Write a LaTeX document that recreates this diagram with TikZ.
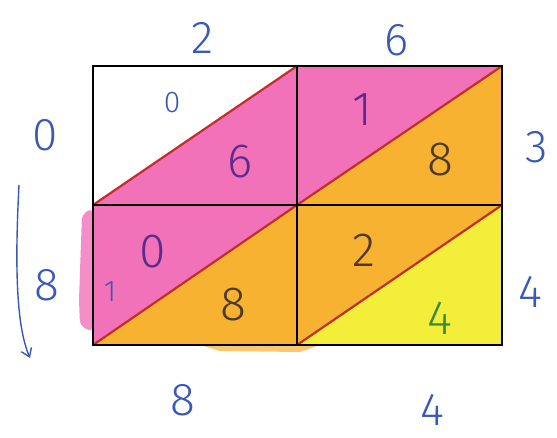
\documentclass[tikz,border=0pt]{standalone}
\usepackage{fontspec}
\setmainfont{Fira Sans}[UprightFont=* Light]
\usetikzlibrary{arrows.meta}
\definecolor{pinkfill}{HTML}{F272BA}
\definecolor{orangefill}{HTML}{F7B232}
\definecolor{yellowfill}{HTML}{F3EE3A}
\definecolor{inkblue}{HTML}{3A58B8}
\definecolor{inkpurple}{HTML}{5B2C8C}
\definecolor{inkbrown}{HTML}{4C3B2C}
\definecolor{inkgreen}{HTML}{3C8A3A}
\definecolor{diagred}{HTML}{C22E28}
\tikzset{
  outer/.style={text=inkblue, font=\fontsize{46}{46}\selectfont, inner sep=0pt},
  cellnum/.style={font=\fontsize{48}{48}\selectfont, inner sep=0pt},
  gridline/.style={draw=black, line width=2.4pt},
  diagline/.style={draw=diagred, line width=2.2pt},
}
\begin{document}
\begin{tikzpicture}[x=1pt,y=-1pt]
\useasboundingbox (0,0) rectangle (557,437);
% grid corners
\coordinate (a00) at (93,66);  \coordinate (a10) at (297,66);  \coordinate (a20) at (502,66);
\coordinate (a01) at (93,205); \coordinate (a11) at (297,205); \coordinate (a21) at (502,205);
\coordinate (a02) at (93,345); \coordinate (a12) at (297,345); \coordinate (a22) at (502,345);
% smudges
\fill[pinkfill, opacity=0.8, rounded corners=6pt] (82,214) -- (93,208) -- (93,332) -- (80,326) -- (79,300) -- cycle;
\fill[orangefill, opacity=0.7] (200,345) -- (320,345) -- (300,352) -- (220,351) -- cycle;
% fills
\fill[pinkfill] (a01) -- (a10) -- (a11) -- cycle;
\fill[pinkfill] (a10) -- (a20) -- (a11) -- cycle;
\fill[orangefill] (a11) -- (a20) -- (a21) -- cycle;
\fill[pinkfill] (a01) -- (a11) -- (a02) -- cycle;
\fill[orangefill] (a02) -- (a11) -- (a12) -- cycle;
\fill[orangefill] (a11) -- (a21) -- (a12) -- cycle;
\fill[yellowfill] (a12) -- (a21) -- (a22) -- cycle;
% diagonals
\draw[diagline] (a01) -- (a10);
\draw[diagline] (a11) -- (a20);
\draw[diagline] (a02) -- (a11);
\draw[diagline] (a12) -- (a21);
% grid
\draw[gridline] (a00) rectangle (a22);
\draw[gridline] (a01) -- (a21);
\draw[gridline] (a10) -- (a12);
% outer labels
\node[outer] (t2) at (203,38) {2};
\node[outer] (t6) at (397,40) {6};
\node[outer] (l0) at (45,135) {0};
\node[outer] (l8) at (47,285) {8};
\node[outer] (r3) at (537,147) {3};
\node[outer] (r4) at (530,292) {4};
\node[outer] (b8) at (183,400) {8};
\node[outer] (b4) at (432,410) {4};
% cell numbers
\node[cellnum, text=inkblue, font=\fontsize{30}{30}\selectfont] (c1) at (172,103) {0};
\node[cellnum, text=inkpurple] (c2) at (240,162) {6};
\node[cellnum, text=inkpurple] (c3) at (362,110) {1};
\node[cellnum, text=inkbrown] (c4) at (440,160) {8};
\node[cellnum, text=inkpurple] (c5) at (153,252) {0};
\node[cellnum, text=inkblue, font=\fontsize{30}{30}\selectfont] (c6) at (110,292) {1};
\node[cellnum, text=inkbrown] (c7) at (233,305) {8};
\node[cellnum, text=inkbrown] (c8) at (364,250) {2};
\node[cellnum, text=inkgreen] (c9) at (440,318) {4};
% arrow
\coordinate (arS) at (19,185);
\coordinate (arE) at (30,358);
\draw[inkblue, line width=1.4pt, -{Straight Barb[length=8pt,width=11pt]}] (arS) .. controls (14,280) and (18,330) .. (arE);
\end{tikzpicture}
\end{document}
